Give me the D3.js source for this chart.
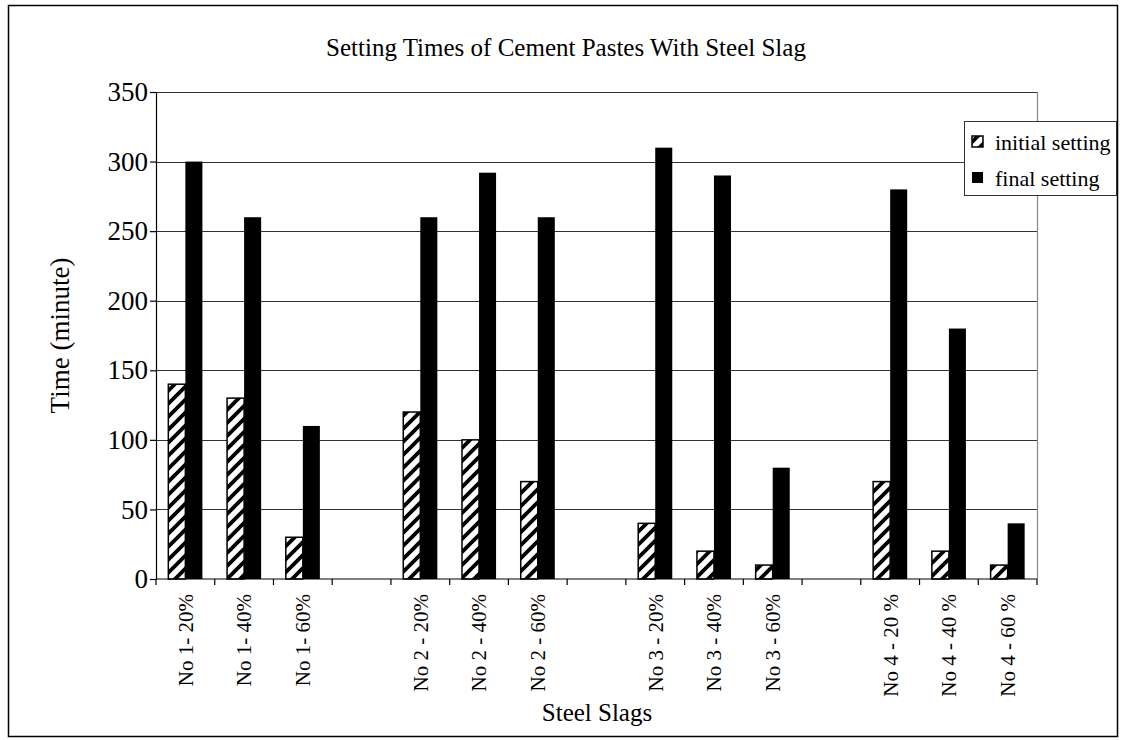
<!DOCTYPE html>
<html>
<head>
<meta charset="utf-8">
<script src="https://cdn.jsdelivr.net/npm/d3@7/dist/d3.min.js"></script>
<style>
  html, body { margin: 0; padding: 0; background: #fff; }
  svg { display: block; font-family: "Liberation Serif", "Times New Roman", serif; }
</style>
</head>
<body>
<svg id="chart" width="1121" height="740"></svg>
<script>
// Setting times (minutes) per steel slag mix; empty strings are gaps between slag groups
const categories = [
  "No 1- 20%", "No 1- 40%", "No 1- 60%", "",
  "No 2 - 20%", "No 2 - 40%", "No 2 - 60%", "",
  "No 3 - 20%", "No 3 - 40%", "No 3 - 60%", "",
  "No 4 - 20 %", "No 4 - 40 %", "No 4 - 60 %"
];
const initialSetting = [140, 130, 30, null, 120, 100, 70, null, 40, 20, 10, null, 70, 20, 10];
const finalSetting   = [300, 260, 110, null, 260, 292, 260, null, 310, 290, 80, null, 280, 180, 40];
const seriesNames = ["initial setting", "final setting"];
const yTicks = [0, 50, 100, 150, 200, 250, 300, 350];

const svg = d3.select("#chart");
const W = 1121, H = 740;
const plot = { left: 156, right: 1037, top: 92, bottom: 579 };

// hatch pattern for the initial-setting bars
const P = 13;
const defs = svg.append("defs");
const pat = defs.append("pattern")
  .attr("id", "hatch")
  .attr("patternUnits", "userSpaceOnUse")
  .attr("width", P).attr("height", P);
pat.append("rect").attr("width", P).attr("height", P).attr("fill", "#fff");
pat.append("path")
  .attr("d", `M0,${P} L${P},0 M-3,3 L3,-3 M${P - 3},${P + 3} L${P + 3},${P - 3}`)
  .attr("stroke", "#000").attr("stroke-width", 3.8);

// background and outer frame
svg.append("rect").attr("width", W).attr("height", H).attr("fill", "#fff");
svg.append("rect")
  .attr("x", 8.5).attr("y", 5.5).attr("width", 1109).attr("height", 731)
  .attr("fill", "none").attr("stroke", "#000").attr("stroke-width", 1.5);

const x = d3.scaleBand()
  .domain(d3.range(categories.length))
  .range([plot.left, plot.right])
  .padding(0);
const bw = x.bandwidth();
const groupW = bw * 0.58;
const xInner = d3.scaleBand()
  .domain(seriesNames)
  .range([(bw - groupW) / 2, (bw + groupW) / 2])
  .padding(0);

const y = d3.scaleLinear().domain([0, 350]).range([plot.bottom, plot.top]);

// gridlines
svg.append("g")
  .selectAll("line")
  .data(yTicks.filter(d => d > 0))
  .join("line")
  .attr("x1", plot.left).attr("x2", plot.right)
  .attr("y1", d => Math.round(y(d)) + 0.5).attr("y2", d => Math.round(y(d)) + 0.5)
  .attr("stroke", "#333").attr("stroke-width", 1.2);

// plot area right border
svg.append("line")
  .attr("x1", plot.right + 0.5).attr("x2", plot.right + 0.5)
  .attr("y1", plot.top).attr("y2", plot.bottom)
  .attr("stroke", "#888").attr("stroke-width", 1.2);

// bars
const rows = categories.map((c, i) => ({ i, c, initial: initialSetting[i], final: finalSetting[i] }));
const bars = svg.append("g");
bars.selectAll("rect.final")
  .data(rows.filter(d => d.final != null))
  .join("rect")
  .attr("class", "final")
  .attr("x", d => x(d.i) + xInner("final setting"))
  .attr("y", d => y(d.final))
  .attr("width", xInner.bandwidth())
  .attr("height", d => y(0) - y(d.final))
  .attr("fill", "#000");
bars.selectAll("rect.initial")
  .data(rows.filter(d => d.initial != null))
  .join("rect")
  .attr("class", "initial")
  .attr("x", d => x(d.i) + xInner("initial setting"))
  .attr("y", d => y(d.initial))
  .attr("width", xInner.bandwidth())
  .attr("height", d => y(0) - y(d.initial))
  .attr("fill", "url(#hatch)")
  .attr("stroke", "#000").attr("stroke-width", 1.5);

// y axis
const yAxis = svg.append("g")
  .attr("transform", `translate(${plot.left},0)`)
  .call(d3.axisLeft(y).tickValues(yTicks).tickSize(6).tickPadding(2).tickFormat(d3.format("d")));
yAxis.select(".domain").attr("stroke", "#000").attr("stroke-width", 1.2);
yAxis.selectAll(".tick line").attr("stroke", "#000").attr("stroke-width", 1.2);
yAxis.selectAll(".tick text")
  .attr("fill", "#000")
  .style("font-family", "'Liberation Serif', serif")
  .style("font-size", "27px");

// x axis: ticks at category boundaries
const xAxisG = svg.append("g").attr("transform", `translate(0,${plot.bottom})`);
xAxisG.append("line")
  .attr("x1", plot.left).attr("x2", plot.right)
  .attr("stroke", "#000").attr("stroke-width", 1.2);
xAxisG.selectAll("line.tk")
  .data(d3.range(categories.length + 1))
  .join("line")
  .attr("class", "tk")
  .attr("x1", i => (i < categories.length ? x(i) : plot.right))
  .attr("x2", i => (i < categories.length ? x(i) : plot.right))
  .attr("y1", 0).attr("y2", 6)
  .attr("stroke", "#000").attr("stroke-width", 1.2);
xAxisG.selectAll("text")
  .data(rows.filter(d => d.c !== ""))
  .join("text")
  .attr("transform", d => `translate(${x(d.i) + bw / 2},15) rotate(-90)`)
  .attr("dy", "0.35em")
  .attr("text-anchor", "end")
  .attr("fill", "#000")
  .style("font-size", "21px")
  .text(d => d.c);

// titles
svg.append("text")
  .attr("x", 566).attr("y", 56)
  .attr("text-anchor", "middle")
  .style("font-size", "25px")
  .text("Setting Times of Cement Pastes With Steel Slag");
svg.append("text")
  .attr("x", 597).attr("y", 721)
  .attr("text-anchor", "middle")
  .style("font-size", "25px")
  .text("Steel Slags");
svg.append("text")
  .attr("transform", `translate(60,${(plot.top + plot.bottom) / 2}) rotate(-90)`)
  .attr("dy", "0.35em")
  .attr("text-anchor", "middle")
  .style("font-size", "27px")
  .text("Time (minute)");

// legend
const lg = svg.append("g").attr("transform", "translate(964,121)");
lg.append("rect")
  .attr("x", 0.5).attr("y", 0.5).attr("width", 152).attr("height", 74)
  .attr("fill", "#fff").attr("stroke", "#333").attr("stroke-width", 1);
const items = lg.selectAll("g.item")
  .data(seriesNames)
  .join("g")
  .attr("class", "item")
  .attr("transform", (d, i) => `translate(8,${21 + i * 36})`);
items.append("rect")
  .attr("x", 0).attr("y", -6).attr("width", 11).attr("height", 11)
  .attr("fill", (d, i) => (i === 0 ? "url(#hatch)" : "#000"))
  .attr("stroke", "#000").attr("stroke-width", (d, i) => (i === 0 ? 1.5 : 0));
items.append("text")
  .attr("x", 23).attr("y", 0).attr("dy", "0.35em")
  .style("font-size", "22px")
  .text(d => d);
</script>
</body>
</html>
